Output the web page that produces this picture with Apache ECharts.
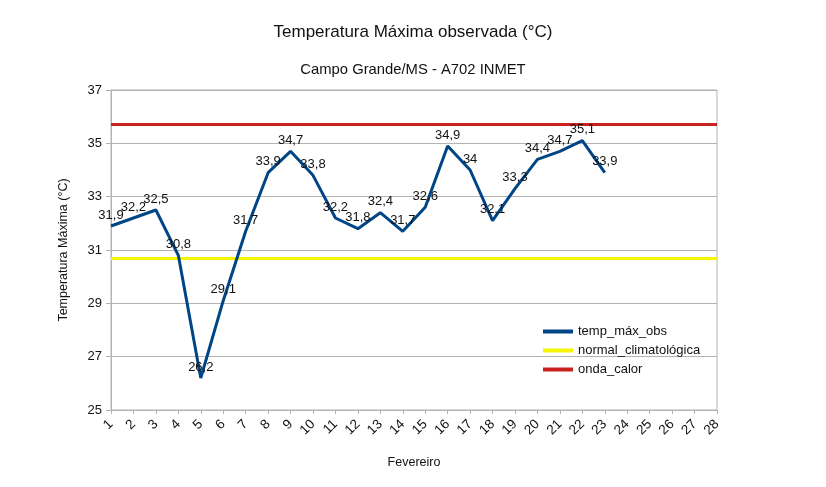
<!DOCTYPE html>
<html><head><meta charset="utf-8">
<script src="https://cdn.jsdelivr.net/npm/echarts@6/dist/echarts.min.js"></script>
<style>html,body{margin:0;padding:0;background:#fff}#c{width:826px;height:487px}</style>
</head><body><div id="c"></div>
<script>
var days = ['1','2','3','4','5','6','7','8','9','10','11','12','13','14','15','16','17','18','19','20','21','22','23','24','25','26','27','28'];
var tempMaxObs = [31.9,32.2,32.5,30.8,26.2,29.1,31.7,33.9,34.7,33.8,32.2,31.8,32.4,31.7,32.6,34.9,34,32.1,33.3,34.4,34.7,35.1,33.9];
var normalClimatologica = 30.7;
var ondaCalor = 35.7;
var yTicks = [25,27,29,31,33,35,37];

var FONT = 'Liberation Sans, Arial, sans-serif';
var BLUE = '#004586', YELLOW = '#f5f500', RED = '#c9211e';
var chart = echarts.init(document.getElementById('c'), null, {renderer:'canvas'});
chart.setOption({
  animation:false,
  backgroundColor:'#fff',
  textStyle:{fontFamily:FONT},
  title:[
    {text:'Temperatura Máxima observada (°C)', left:'center', top:19, textStyle:{fontSize:17, fontWeight:'normal', color:'#111', fontFamily:FONT}},
    {text:'Campo Grande/MS - A702 INMET', left:'center', top:57, textStyle:{fontSize:14.8, fontWeight:'normal', color:'#111', fontFamily:FONT}}
  ],
  legend:{
    orient:'vertical', left:538, top:320, itemWidth:30, itemHeight:4, itemGap:6,
    icon:'rect',
    textStyle:{fontSize:13, color:'#111', fontFamily:FONT},
    data:[
      {name:'temp_máx_obs', itemStyle:{color:BLUE, opacity:1}},
      {name:'normal_climatológica', itemStyle:{color:YELLOW, opacity:1}},
      {name:'onda_calor', itemStyle:{color:RED, opacity:1}}
    ]
  },
  grid:{left:111, right:109, top:90, bottom:77, show:true, borderColor:'#b3b3b3', borderWidth:1},
  xAxis:{
    type:'category', data:days, boundaryGap:false,
    name:'Fevereiro', nameLocation:'middle', nameGap:46,
    nameTextStyle:{fontSize:12.5, color:'#111'},
    axisLine:{lineStyle:{color:'#b3b3b3'}},
    axisTick:{show:true, length:4, alignWithLabel:true, lineStyle:{color:'#b3b3b3'}},
    axisLabel:{rotate:45, fontSize:13.5, color:'#111', interval:0, margin:12},
    splitLine:{show:false}
  },
  yAxis:{
    type:'value', min:25, max:37, interval:2,
    name:'Temperatura Máxima (°C)', nameLocation:'middle', nameRotate:90, nameGap:41,
    nameTextStyle:{fontSize:12.5, color:'#111'},
    axisLine:{show:true, lineStyle:{color:'#b3b3b3'}},
    axisTick:{show:true, length:5, lineStyle:{color:'#b3b3b3'}},
    axisLabel:{fontSize:13, color:'#111', margin:9,
      formatter:function(v){return yTicks.indexOf(v)>=0?String(v):'';}},
    splitLine:{lineStyle:{color:'#b3b3b3'}}
  },
  series:[
    {name:'temp_máx_obs', type:'line', data:tempMaxObs, color:BLUE, z:5,
     showSymbol:true, symbol:'circle', symbolSize:1, itemStyle:{color:BLUE, opacity:0},
     lineStyle:{width:3, color:BLUE},
     label:{show:true, position:'top', distance:4, fontSize:13, color:'#111', opacity:1,
       formatter:function(p){return String(p.value).replace('.',',');}}},
    {name:'normal_climatológica', type:'line', data:[], color:YELLOW,
     lineStyle:{width:3, color:YELLOW},
     markLine:{silent:true, symbol:'none', label:{show:false},
       lineStyle:{type:'solid', width:3, color:YELLOW}, data:[{yAxis:normalClimatologica}]}},
    {name:'onda_calor', type:'line', data:[], color:RED,
     lineStyle:{width:3, color:RED},
     markLine:{silent:true, symbol:'none', label:{show:false},
       lineStyle:{type:'solid', width:3, color:RED}, data:[{yAxis:ondaCalor}]}}
  ]
});
</script></body></html>
